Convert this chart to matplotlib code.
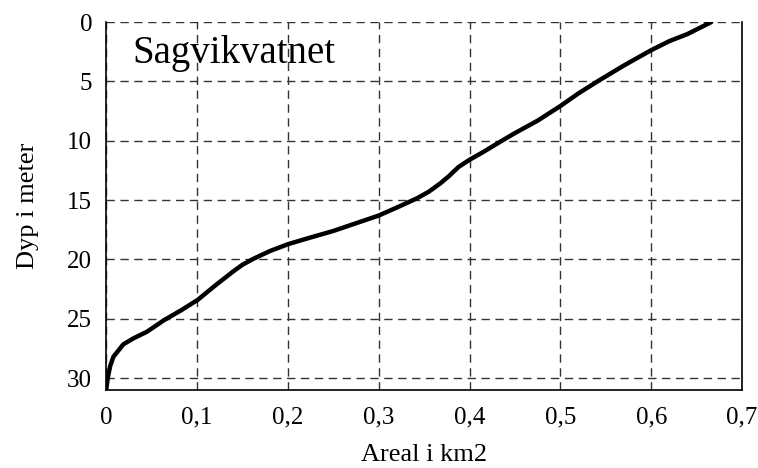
import matplotlib
matplotlib.use('Agg')
import matplotlib.pyplot as plt
from matplotlib.ticker import FuncFormatter

# Areal (km2) mot dyp (m)
areal = [0.666, 0.640, 0.620, 0.600, 0.570, 0.542, 0.520, 0.500, 0.475, 0.450,
         0.4355, 0.415, 0.400, 0.388, 0.377, 0.3676, 0.355, 0.342, 0.3236, 0.300,
         0.275, 0.250, 0.225, 0.2007, 0.180, 0.162, 0.150, 0.140, 0.120, 0.1009,
         0.0833, 0.063, 0.0448, 0.030, 0.019, 0.008, 0.0044, 0.002, 0.0]
dyp = [0.0, 1.0, 1.6, 2.36, 3.65, 4.94, 6.0, 7.07, 8.3, 9.35,
       10.0, 10.95, 11.6, 12.2, 13.0, 13.6, 14.3, 14.85, 15.5, 16.3,
       16.95, 17.6, 18.15, 18.7, 19.3, 19.95, 20.45, 21.0, 22.2, 23.4,
       24.25, 25.15, 26.1, 26.65, 27.15, 28.2, 29.0, 29.9, 31.0]

plt.rcParams['font.family'] = 'Liberation Serif'

fig = plt.figure(figsize=(7.58, 4.68), dpi=100)
ax = fig.add_axes([0.14, 0.1667, 0.839, 0.786])

ax.plot(areal, dyp, color='black', lw=3.2, solid_joinstyle='round', solid_capstyle='round', zorder=3)

ax.set_xlim(0, 0.7)
ax.set_ylim(31, 0)
ax.set_xticks([0, 0.1, 0.2, 0.3, 0.4, 0.5, 0.6, 0.7])
ax.set_yticks([0, 5, 10, 15, 20, 25, 30])
ax.xaxis.set_major_formatter(FuncFormatter(lambda v, p: ('%g' % round(v, 1)).replace('.', ',')))
ax.tick_params(length=0, labelsize=18)
ax.tick_params(axis='x', pad=12)
ax.tick_params(axis='y', pad=10)

ax.grid(True, linestyle=(0, (6, 4)), color='#333333', lw=1.0)
ax.spines['top'].set_visible(False)
for s in ['left', 'bottom', 'right']:
    ax.spines[s].set_linewidth(1.2)

ax.text(0.042, 0.916, 'Sagvikvatnet', transform=ax.transAxes, fontsize=28, va='center', ha='left')

ax.set_xlabel('Areal i km2', fontsize=19, labelpad=11)
ax.set_ylabel('Dyp i meter', fontsize=19, labelpad=20)

fig.savefig('out.png', dpi=100)
